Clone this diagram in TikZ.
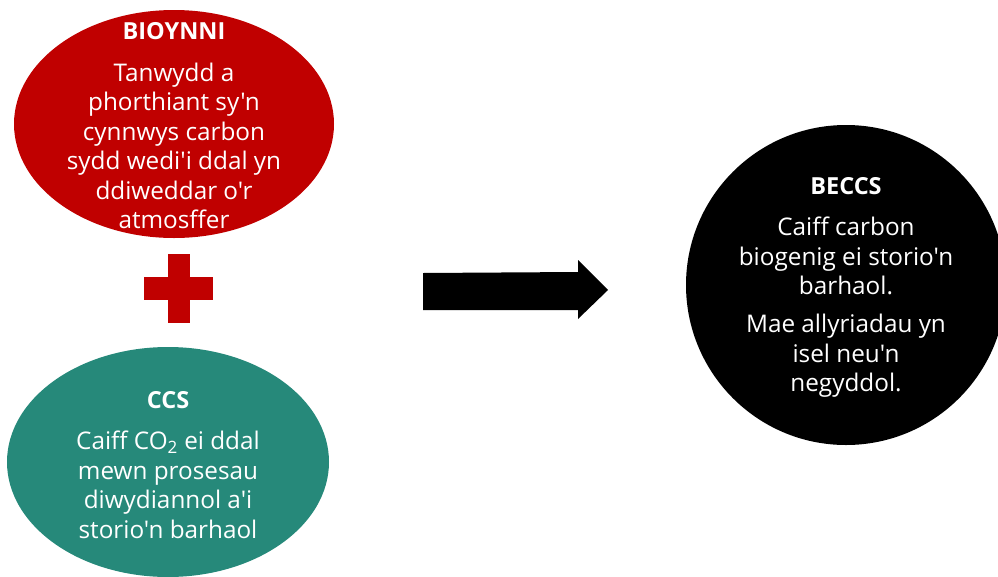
\documentclass[tikz,border=0pt]{standalone}
\usepackage{fontspec}
\setmainfont{Open Sans}[Ligatures=TeXOff]
\usetikzlibrary{shapes.geometric}
\definecolor{bioRed}{HTML}{C00000}
\definecolor{ccsGreen}{HTML}{26897A}
\tikzset{
  blob/.style={ellipse, inner sep=0pt, draw=none},
  titletext/.style={text=white, font=\fontsize{23.5}{26}\selectfont\bfseries, inner sep=0pt, anchor=center},
  bodytext/.style={text=white, font=\fontsize{24.3}{29.5}\selectfont, align=center, inner sep=0pt, anchor=center},
}
\begin{document}
\begin{tikzpicture}[x=1pt,y=-1pt]
\useasboundingbox (0,0) rectangle (998,576);
% Bioenergy
\node[blob, fill=bioRed, minimum width=320pt, minimum height=228pt] (bio) at (174,124) {};
\node[titletext] (bioT) at (174,31) {BIOYNNI};
\node[bodytext] (bioB) at (174,146) {Tanwydd a\\phorthiant sy'n\\cynnwys carbon\\sydd wedi'i ddal yn\\ddiweddar o'r\\atmosffer};
% plus
\fill[bioRed] (168,254) rectangle (190,323);
\fill[bioRed] (144,277) rectangle (213,300);
% CCS
\node[blob, fill=ccsGreen, minimum width=322pt, minimum height=230pt] (ccs) at (168,462) {};
\node[titletext] (ccsT) at (168,400) {CCS};
\node[bodytext] (ccsB) at (168,485) {Caiff CO\textsubscript{2} ei ddal\\mewn prosesau\\diwydiannol a'i\\storio'n barhaol};
% arrow
\fill[black] (423,273) -- (578,272) -- (578,260) -- (608,290) -- (578,319) -- (578,310) -- (423,310) -- cycle;
% BECCS
\node[circle, fill=black, minimum size=320pt, inner sep=0pt] (beccs) at (846,285) {};
\node[titletext] (beccsT) at (846,186) {BECCS};
\node[bodytext] (beccsB1) at (846,256) {Caiff carbon\\biogenig ei storio'n\\barhaol.};
\node[bodytext] (beccsB2) at (846,356) {Mae allyriadau yn\\isel neu'n\\negyddol.};
\end{tikzpicture}
\end{document}
